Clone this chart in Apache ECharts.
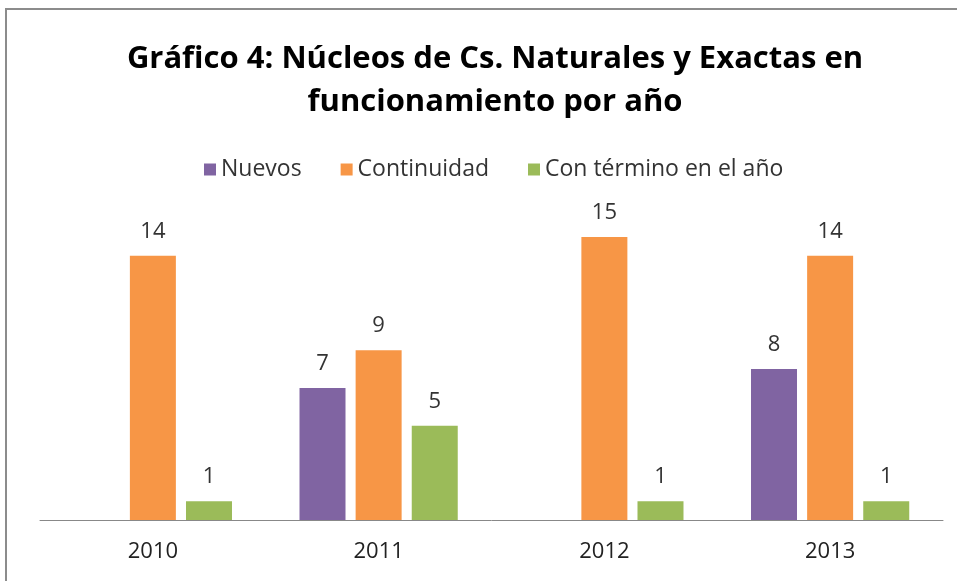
<!DOCTYPE html>
<html>
<head>
<meta charset="utf-8">
<script src="https://cdn.jsdelivr.net/npm/echarts@6/dist/echarts.min.js"></script>
<style>
  html, body { margin: 0; padding: 0; background: #fff; }
  #main { width: 957px; height: 581px; }
</style>
</head>
<body>
<div id="main"></div>
<script>
const years = ['2010', '2011', '2012', '2013'];
const nuevos = [null, 7, null, 8];
const continuidad = [14, 9, 15, 14];
const termino = [1, 5, 1, 1];

const chart = echarts.init(document.getElementById('main'));
const font = '"Open Sans", "Noto Sans", sans-serif';

const label = {
  show: true,
  position: 'top',
  distance: 13,
  fontSize: 22,
  color: '#333',
  fontFamily: font
};

chart.setOption({
  animation: false,
  color: ['#8064A2', '#F79646', '#9BBB59'],
  title: {
    text: 'Gráfico 4: Núcleos de Cs. Naturales y Exactas en\nfuncionamiento por año',
    left: 490,
    textAlign: 'center',
    top: 33,
    textStyle: {
      fontFamily: font,
      fontWeight: 'bold',
      fontSize: 31,
      lineHeight: 43,
      color: '#000'
    }
  },
  legend: {
    top: 153,
    left: 199,
    itemWidth: 12,
    itemHeight: 12,
    itemGap: 39,
    icon: 'rect',
    textStyle: { fontFamily: font, fontSize: 23, color: '#333' },
    data: ['Nuevos', 'Continuidad', 'Con término en el año']
  },
  graphic: [{
    type: 'rect',
    shape: { x: 6, y: 9, width: 960, height: 580 },
    style: { fill: 'none', stroke: '#8c8c8c', lineWidth: 2 },
    silent: true
  }],
  grid: { left: 40, right: 14, top: 218, bottom: 61 },
  xAxis: {
    type: 'category',
    data: years,
    axisLine: { lineStyle: { color: '#888', width: 1 } },
    axisTick: { show: false },
    axisLabel: { fontFamily: font, fontSize: 22, color: '#222', margin: 21 }
  },
  yAxis: {
    type: 'value',
    min: 0,
    max: 16,
    show: false
  },
  series: [
    { name: 'Nuevos', type: 'bar', data: nuevos, barWidth: 46, barGap: '22%', label: label },
    { name: 'Continuidad', type: 'bar', data: continuidad, barWidth: 46, barGap: '22%', label: label },
    { name: 'Con término en el año', type: 'bar', data: termino, barWidth: 46, barGap: '22%', label: label }
  ]
});
</script>
</body>
</html>
